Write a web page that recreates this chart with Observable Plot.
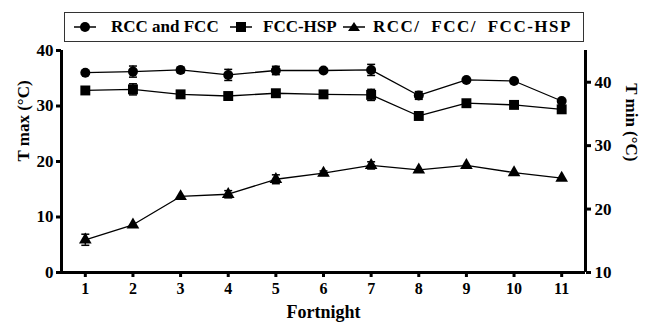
<!DOCTYPE html>
<html><head><meta charset="utf-8">
<script src="https://cdn.jsdelivr.net/npm/d3@7"></script>
<script src="https://cdn.jsdelivr.net/npm/@observablehq/plot@0.6"></script>
<style>
body{margin:0;background:#fff;}
#wrap{position:relative;width:646px;height:322px;color:#000;}
#wrap, #wrap *, #wrap svg text{font-family:'Liberation Serif','DejaVu Serif',serif !important;font-weight:bold;}
#legend{position:absolute;left:64px;top:12px;width:520px;height:30px;border:1.5px solid #333;box-sizing:border-box;background:#fff;}
.mk{position:absolute;top:7px;}
.tx{position:absolute;top:0;height:27px;line-height:27px;font-size:17px;white-space:nowrap;}
</style></head><body><div id="wrap"></div>
<script>
// ---- data (values read on the left T max scale) ----
const fortnights = [1,2,3,4,5,6,7,8,9,10,11];
const seriesNames = ["RCC and FCC","FCC-HSP","RCC/ FCC/ FCC-HSP"];
const rccFccMean   = [36.0,36.2,36.5,35.6,36.4,36.4,36.5,31.9,34.7,34.5,30.9];
const rccFccErr    = [0.2,1.0,0.5,1.0,0.75,0.2,1.0,0.7,0.3,0.2,0.2];
const fccHspMean   = [32.8,33.0,32.1,31.8,32.3,32.1,32.0,28.2,30.5,30.2,29.4];
const fccHspErr    = [0.2,1.0,0.3,0.2,0.3,0.2,1.0,0.2,0.2,0.2,0.2];
const allMean      = [5.9,8.6,13.7,14.1,16.8,17.9,19.3,18.5,19.3,18.0,17.0];
const allErr       = [1.0,0.2,0.3,0.65,0.8,0.4,0.65,0.2,0.2,0.2,0.2];
const leftTicks  = [0,10,20,30,40];
const rightTicks = [10,20,30,40];
const rightDomain = [10,45];
const leftDomain = [0,40];

const toLeft  = r => (r - rightDomain[0]) * (leftDomain[1]-leftDomain[0]) / (rightDomain[1]-rightDomain[0]);
const toRight = l => rightDomain[0] + l * (rightDomain[1]-rightDomain[0]) / (leftDomain[1]-leftDomain[0]);

const means = [rccFccMean, fccHspMean, allMean];
const errs  = [rccFccErr, fccHspErr, allErr];
const symbols = ["circle","square","triangle"];
const radii = [5, 5.6, 4.7];
const rows = [];
seriesNames.forEach((s,i) => fortnights.forEach((f,j) => rows.push({series:s, x:f, y:means[i][j], err:errs[i][j], si:i})));

const capSymbol = {draw(ctx, size){ const r = Math.sqrt(size/Math.PI); ctx.moveTo(-r,0); ctx.lineTo(r,0); }};
const errRows = rows.filter(d => d.err >= 0.4);
const FONT = "'Liberation Serif','DejaVu Serif',serif";

const chart = Plot.plot({
  width: 646, height: 322,
  marginLeft: 61, marginRight: 61, marginTop: 50, marginBottom: 50,
  style: {fontFamily: FONT, fontWeight: "bold", color: "#000", background: "transparent"},
  x: {domain: [fortnights[0]-0.5, fortnights[fortnights.length-1]+0.5], axis: null},
  y: {domain: leftDomain, axis: null},
  marks: [
    Plot.line(rows, {x:"x", y:"y", z:"series", stroke:"#000", strokeWidth:1.3}),
    Plot.ruleX(errRows, {x:"x", y1: d => d.y - d.err, y2: d => d.y + d.err, stroke:"#000", strokeWidth:1.5}),
    Plot.dot(errRows, {x:"x", y: d => d.y + d.err, symbol: capSymbol, r:4, fill:"none", stroke:"#000", strokeWidth:1.5}),
    Plot.dot(errRows, {x:"x", y: d => d.y - d.err, symbol: capSymbol, r:4, fill:"none", stroke:"#000", strokeWidth:1.5}),
    ...symbols.map((sym,i) => Plot.dot(rows.filter(d => d.si === i), {x:"x", y:"y", symbol: sym, r: radii[i], fill:"#000", stroke:"none"})),
    Plot.axisX(fortnights, {tickSize:5, strokeWidth:3, fontSize:16, tickPadding:5, label:null, tickFormat: d => String(d)}),
    Plot.axisY(leftTicks, {anchor:"left", tickSize:5, strokeWidth:3, fontSize:17, tickPadding:3, label:null}),
    Plot.axisY(rightTicks.map(toLeft), {anchor:"right", tickSize:5, strokeWidth:3, fontSize:17, tickPadding:4, label:null, tickFormat: d => String(Math.round(toRight(d)))}),
    Plot.ruleY([leftDomain[0]], {stroke:"#000", strokeWidth:3}),
    Plot.ruleX([fortnights[0]-0.5, fortnights[fortnights.length-1]+0.5], {stroke:"#000", strokeWidth:3}),
    Plot.text(["T max (°C)"], {frameAnchor:"left", dx:-38, rotate:-90, fontSize:17, fontWeight:"bold", fill:"#000"}),
    Plot.text(["T min (°C)"], {frameAnchor:"right", dx:46, rotate:90, fontSize:17, fontWeight:"bold", fill:"#000"}),
    Plot.text(["Fortnight"], {frameAnchor:"bottom", dy:45, fontSize:18, fontWeight:"bold", fill:"#000"})
  ]
});

const wrap = document.getElementById("wrap");
wrap.appendChild(chart);

// ---- legend ----
const legend = document.createElement("div");
legend.id = "legend";
const markerLeft = [8, 164, 277];
const textLeft = [46, 198, 308];
const wordSpacing = ["0px", "0px", "5px"];
const letterSpacing = ["0px", "0px", "1.5px"];
const symPaths = [
  '<circle cx="12" cy="7" r="5" fill="#000"/>',
  '<rect x="7" y="2" width="10" height="10" fill="#000"/>',
  '<path d="M12 2 L18 11 L6 11 Z" fill="#000"/>'
];
seriesNames.forEach((s,i) => {
  const mk = document.createElement("div");
  mk.className = "mk";
  mk.style.left = markerLeft[i] + "px";
  mk.innerHTML = '<svg width="24" height="14" style="display:block"><line x1="1" x2="23" y1="7" y2="7" stroke="#000" stroke-width="1.5"/>' + symPaths[i] + '</svg>';
  legend.appendChild(mk);
  const tx = document.createElement("div");
  tx.className = "tx";
  tx.style.left = textLeft[i] + "px";
  tx.style.wordSpacing = wordSpacing[i];
  tx.style.letterSpacing = letterSpacing[i];
  tx.textContent = s;
  legend.appendChild(tx);
});
wrap.appendChild(legend);
</script></body></html>
